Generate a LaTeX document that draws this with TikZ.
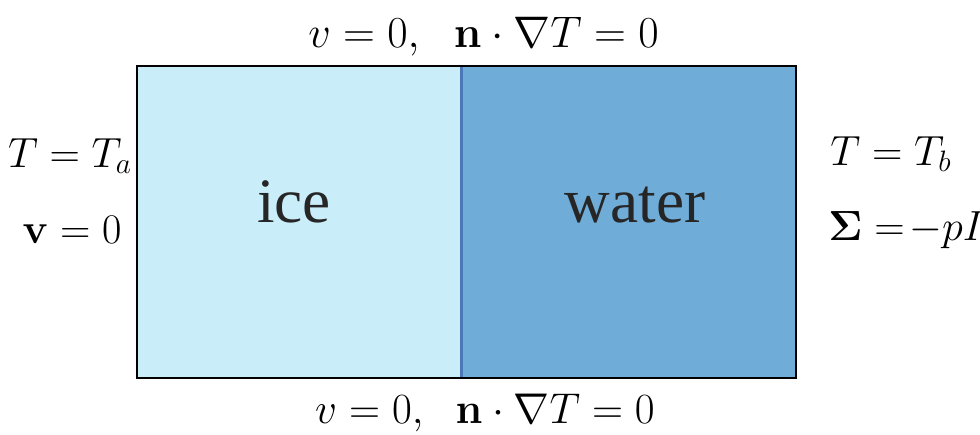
\RequirePackage{fix-cm}
\documentclass[tikz,border=0pt]{standalone}
\usepackage{amsmath}
\usepackage[no-math]{fontspec}
\usepackage{tikz}
\newfontfamily\phasefont{Liberation Serif}
\definecolor{icefill}{HTML}{C9EDF9}
\definecolor{waterfill}{HTML}{6FADD8}
\definecolor{interfacecol}{HTML}{4A78B8}
\tikzset{
  region/.style={draw=none, minimum height=6.24cm, inner sep=0pt},
  phase/.style={font=\fontsize{36}{42}\phasefont, text=black!85, anchor=base, inner sep=0pt},
  bc/.style={font=\fontsize{24}{29}\selectfont, anchor=base, inner sep=0pt},
  wallbc/.style={bc, font=\fontsize{24.5}{29}\selectfont},
}

\begin{document}
\begin{tikzpicture}
  \useasboundingbox (0,0) rectangle (19.6,8.68);
  % the two phases
  \node[region, fill=icefill, minimum width=6.48cm] (ice) at (5.98,4.24) {};
  \node[region, fill=waterfill, minimum width=6.70cm] (water) at (12.57,4.24) {};
  \node[phase] (icetext) at (5.88,4.24) {ice};
  \node[phase] (watertext) at (12.70,4.24) {water};
  % interface and outer boundary
  \draw[interfacecol, line width=1.7pt] (ice.north east) -- (ice.south east);
  \draw[line width=1.1pt] (ice.north west) rectangle (water.south east);
  % boundary conditions
  \node[wallbc, font=\fontsize{25.2}{30}\selectfont] (top) at (9.67,7.74) {$v=0,\ \ \mathbf{n}\cdot\nabla T=0$};
  \node[wallbc] (bottom) at (9.70,0.22) {$v=0,\ \;\mathbf{n}\cdot\nabla T=0$};
  \node[bc] (Ta) at (1.40,5.34) {$T=T_a$};
  \node[bc] (va) at (1.44,3.82) {$\mathbf{v}=0$};
  \node[bc, anchor=base west] (Tb) at (16.60,5.38) {$T=T_b$};
  \node[bc, anchor=base west] (sb) at (16.56,3.88) {$\mathbf{\Sigma}=\!-pI$};
\end{tikzpicture}
\end{document}
